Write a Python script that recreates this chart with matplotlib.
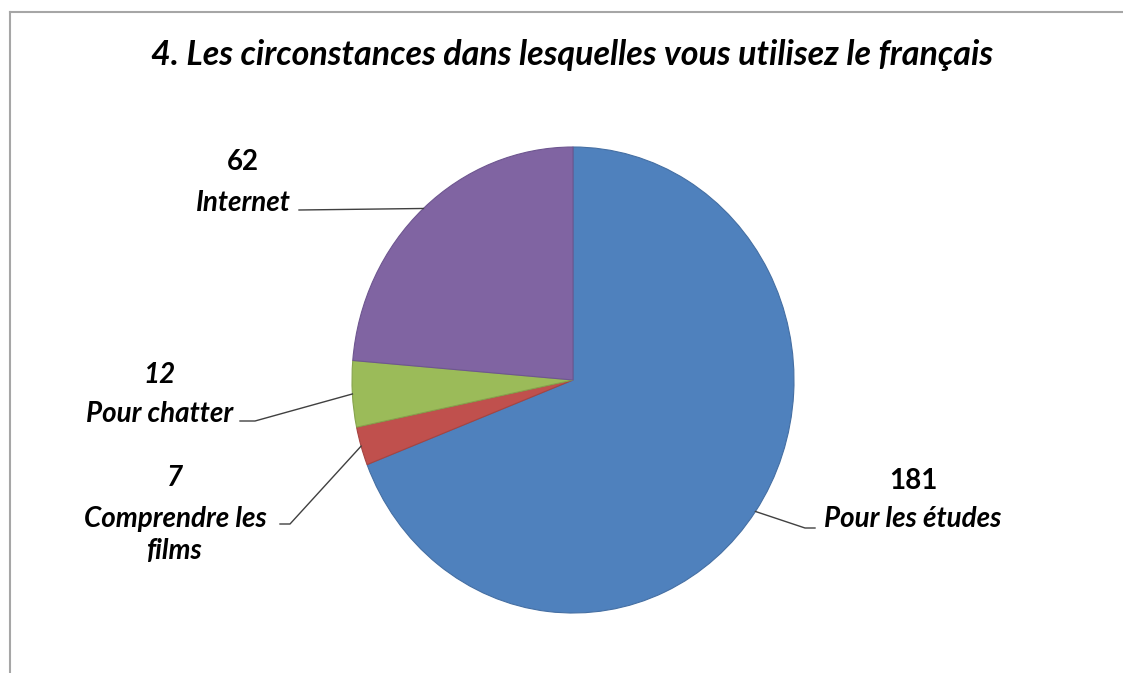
import matplotlib
matplotlib.use("Agg")
import matplotlib.pyplot as plt
from matplotlib.lines import Line2D
import numpy as np

# ---- data ----
categories = ["Pour les études", "Comprendre les\nfilms", "Pour chatter", "Internet"]
values = [181, 7, 12, 62]
colors = ["#4F81BD", "#C0504D", "#9BBB59", "#8064A2"]
edge_colors = ["#456FA3", "#A64441", "#86A34C", "#6E5690"]
title = "4. Les circonstances dans lesquelles vous utilisez le français"

W, H = 1123, 673
fig = plt.figure(figsize=(W / 100, H / 100), dpi=100)
fig.patch.set_facecolor("white")

FONT = ["Lato", "DejaVu Sans"]

def fx(x):
    return x / W

def fy(y):
    return 1 - y / H

# pie axes: bounding box in image pixels
left, right, top, bottom = 352, 794, 147, 613
ax = fig.add_axes([fx(left), fy(bottom), (right - left) / W, (bottom - top) / H])
wedges, _ = ax.pie(values, colors=colors, startangle=90, counterclock=False,
                   radius=1, center=(0, 0),
                   wedgeprops=dict(linewidth=0.8))
for w, ec in zip(wedges, edge_colors):
    w.set_edgecolor(ec)
ax.set_xlim(-1, 1)
ax.set_ylim(-1, 1)
ax.set_aspect("auto")
ax.axis("off")

# frame
fig.add_artist(Line2D([fx(10), fx(10)], [fy(12), 0], color="#A6A6A6", lw=1.5,
                      transform=fig.transFigure))
fig.add_artist(Line2D([fx(10), 1], [fy(12), fy(12)], color="#A6A6A6", lw=1.5,
                      transform=fig.transFigure))

# title
fig.text(fx(572), fy(55), title, ha="center", va="center", fontsize=24.5,
         fontweight="bold", fontstyle="italic", family=FONT)

# labels layout: (value center, name center, elbow pts in image px, value italic?)
layouts = [
    dict(val=(913, 481), name=(913, 519), elbow=[(805, 528), (815, 528)], vit=False),
    dict(val=(175, 478), name=(175, 535), elbow=[(290, 524), (280, 524)], vit=True),
    dict(val=(160, 375), name=(160, 414), elbow=[(255, 421), (240, 421)], vit=True),
    dict(val=(243, 162), name=(243, 203), elbow=[(299, 210)], vit=False),
]

fig.canvas.draw()
for w, v, cat, lay in zip(wedges, values, categories, layouts):
    mid = np.deg2rad((w.theta1 + w.theta2) / 2)
    px, py = ax.transData.transform((np.cos(mid), np.sin(mid)))
    xs = [px / W] + [fx(e[0]) for e in lay["elbow"]]
    ys = [py / H] + [fy(e[1]) for e in lay["elbow"]]
    fig.add_artist(Line2D(xs, ys, color="#404040", lw=1.0, transform=fig.transFigure))
    fig.text(fx(lay["val"][0]), fy(lay["val"][1]), str(v), ha="center", va="center",
             fontsize=20, fontweight="bold",
             fontstyle="italic" if lay["vit"] else "normal", family=FONT)
    fig.text(fx(lay["name"][0]), fy(lay["name"][1]), cat, ha="center", va="center",
             fontsize=20, fontweight="bold", fontstyle="italic", family=FONT,
             linespacing=1.25)

fig.savefig("out.png", dpi=100, facecolor="white")
